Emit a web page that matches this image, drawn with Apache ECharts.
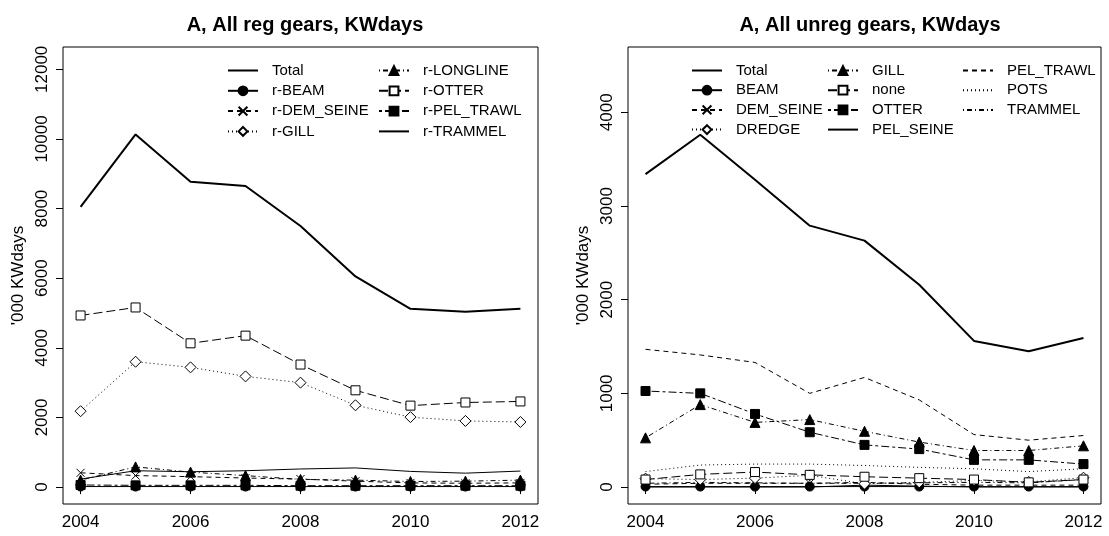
<!DOCTYPE html>
<html>
<head>
<meta charset="utf-8">
<script src="https://cdn.jsdelivr.net/npm/echarts@6/dist/echarts.min.js"></script>
<style>html,body{margin:0;padding:0;background:#fff}#c{width:1109px;height:536px}</style>
</head>
<body>
<div id="c"></div>
<script>
// ---------- data ----------
const years = [2004, 2005, 2006, 2007, 2008, 2009, 2010, 2011, 2012];
const xTicks = [2004, 2006, 2008, 2010, 2012];
const regTicks = [0, 2000, 4000, 6000, 8000, 10000, 12000];
const unregTicks = [0, 1000, 2000, 3000, 4000];

// left panel: regulated gears
const regTotal     = [8050, 10130, 8770, 8650, 7500, 6050, 5120, 5040, 5120];
const regBeam      = [15, 15, 15, 15, 15, 15, 15, 15, 15];
const regDemSeine  = [410, 330, 300, 260, 230, 170, 120, 110, 120];
const regGill      = [2180, 3600, 3440, 3180, 3000, 2350, 2010, 1900, 1870];
const regLongline  = [200, 580, 430, 330, 220, 200, 160, 170, 200];
const regOtter     = [4930, 5160, 4130, 4350, 3520, 2780, 2340, 2430, 2460];
const regPelTrawl  = [60, 50, 50, 50, 40, 40, 40, 40, 40];
const regTrammel   = [230, 470, 440, 470, 520, 550, 450, 400, 460];

// right panel: unregulated gears
const unTotal      = [3340, 3760, 3280, 2790, 2630, 2160, 1560, 1450, 1590];
const unBeam       = [5, 5, 5, 5, 5, 5, 5, 5, 5];
const unDemSeine   = [30, 40, 40, 40, 50, 30, 20, 20, 20];
const unDredge     = [90, 80, 95, 125, 35, 50, 70, 55, 100];
const unGill       = [525, 880, 690, 720, 595, 480, 390, 390, 440];
const unNone       = [80, 135, 160, 130, 110, 95, 80, 50, 80];
const unOtter      = [1025, 1000, 780, 585, 450, 405, 290, 290, 245];
const unPelSeine   = [0, 0, 0, 0, 20, 10, 0, 0, 0];
const unPelTrawl   = [1470, 1410, 1330, 1000, 1170, 930, 560, 500, 550];
const unPots       = [165, 235, 245, 245, 230, 210, 195, 165, 195];
const unTrammel    = [40, 50, 45, 40, 40, 45, 50, 45, 80];

// ---------- styles ----------
const LTY = {
  solid: 'solid',
  dashed: [5, 4],
  dotted: [1, 3],
  dotdash: [1, 3, 5, 3],
  longdash: [9, 4],
  twodash: [3, 3, 8, 3]
};
const XPATH = 'path://M0,0L10,10M10,0L0,10';
const SYM = {
  none: {symbol: 'circle', size: 0, fill: 'transparent', bw: 0, hide: true},
  dot: {symbol: 'circle', size: 9, fill: '#000', bw: 1},
  cross: {symbol: XPATH, size: 8, fill: '#000', bw: 1},
  diamond: {symbol: 'diamond', size: 11, fill: '#fff', bw: 1},
  tri: {symbol: 'triangle', size: 10, fill: '#000', bw: 1},
  osq: {symbol: 'rect', size: 9, fill: '#fff', bw: 1},
  sq: {symbol: 'rect', size: 9, fill: '#000', bw: 1}
};

function mk(name, data, idx, lty, sym, width) {
  const s = SYM[sym];
  return {
    type: 'line',
    name: name,
    xAxisIndex: idx, yAxisIndex: idx,
    data: years.map((y, i) => [y, data[i]]),
    symbol: s.symbol,
    symbolSize: s.size,
    showSymbol: !s.hide,
    lineStyle: {color: '#000', width: width || 1, type: LTY[lty]},
    itemStyle: {color: s.fill, borderColor: s.bw ? '#000' : 'transparent', borderWidth: s.bw},
    emphasis: {disabled: true},
    silent: true,
    z: 2
  };
}

const series = [
  mk('Total', regTotal, 0, 'solid', 'none', 2),
  mk('r-BEAM', regBeam, 0, 'solid', 'dot'),
  mk('r-DEM_SEINE', regDemSeine, 0, 'dashed', 'cross'),
  mk('r-GILL', regGill, 0, 'dotted', 'diamond'),
  mk('r-LONGLINE', regLongline, 0, 'dotdash', 'tri'),
  mk('r-OTTER', regOtter, 0, 'longdash', 'osq'),
  mk('r-PEL_TRAWL', regPelTrawl, 0, 'twodash', 'sq'),
  mk('r-TRAMMEL', regTrammel, 0, 'solid', 'none'),

  mk('Total', unTotal, 1, 'solid', 'none', 2),
  mk('BEAM', unBeam, 1, 'solid', 'dot'),
  mk('DEM_SEINE', unDemSeine, 1, 'dashed', 'cross'),
  mk('DREDGE', unDredge, 1, 'dotted', 'diamond'),
  mk('GILL', unGill, 1, 'dotdash', 'tri'),
  mk('none', unNone, 1, 'longdash', 'osq'),
  mk('OTTER', unOtter, 1, 'twodash', 'sq'),
  mk('PEL_SEINE', unPelSeine, 1, 'solid', 'none'),
  mk('PEL_TRAWL', unPelTrawl, 1, 'dashed', 'none'),
  mk('POTS', unPots, 1, 'dotted', 'none'),
  mk('TRAMMEL', unTrammel, 1, 'dotdash', 'none')
];

const FONT = 'Liberation Sans, Arial, sans-serif';

function legend(names, left, top, gap) {
  return {
    data: names, left: left, top: top, orient: 'vertical',
    padding: 0, itemGap: gap, itemWidth: 30, itemHeight: 11,
    selectedMode: false,
    textStyle: {fontFamily: FONT, fontSize: 15, color: '#000', lineHeight: 14, padding: [0, 0, 0, 9]}
  };
}

const plain = v => String(v);

function xAxis(idx) {
  return {
    type: 'value', gridIndex: idx, min: 2003.68, max: 2012.32,
    axisLine: {show: false},
    axisTick: {show: true, length: 7, lineStyle: {color: '#000'}, customValues: xTicks},
    axisLabel: {color: '#000', fontFamily: FONT, fontSize: 17, margin: 10, customValues: xTicks, formatter: plain},
    splitLine: {show: false}
  };
}
function yAxis(idx, min, max, ticks) {
  return {
    type: 'value', gridIndex: idx, min: min, max: max,
    name: "'000 KWdays", nameLocation: 'middle', nameGap: 36, nameRotate: 90,
    nameTextStyle: {color: '#000', fontFamily: FONT, fontSize: 17},
    axisLine: {show: false},
    axisTick: {show: true, length: 7, lineStyle: {color: '#000'}, customValues: ticks},
    axisLabel: {color: '#000', fontFamily: FONT, fontSize: 17, rotate: 90, margin: 12, customValues: ticks, formatter: plain},
    splitLine: {show: false}
  };
}

const option = {
  animation: false,
  backgroundColor: '#fff',
  title: [
    {text: 'A, All reg gears, KWdays', left: 300, top: 10, textAlign: 'center',
     textStyle: {fontFamily: FONT, fontSize: 20, fontWeight: 'bold', color: '#000'}},
    {text: 'A, All unreg gears, KWdays', left: 865, top: 10, textAlign: 'center',
     textStyle: {fontFamily: FONT, fontSize: 20, fontWeight: 'bold', color: '#000'}}
  ],
  grid: [
    {left: 63, top: 47, width: 475, height: 457, show: true, borderColor: '#000', borderWidth: 1, backgroundColor: 'transparent'},
    {left: 628, top: 47, width: 473, height: 457, show: true, borderColor: '#000', borderWidth: 1, backgroundColor: 'transparent'}
  ],
  xAxis: [xAxis(0), xAxis(1)],
  yAxis: [yAxis(0, -486, 12642, regTicks), yAxis(1, -181, 4697, unregTicks)],
  legend: [
    legend(['Total', 'r-BEAM', 'r-DEM_SEINE', 'r-GILL'], 227, 63, 5.3),
    legend(['r-LONGLINE', 'r-OTTER', 'r-PEL_TRAWL', 'r-TRAMMEL'], 378, 63, 5.3),
    legend(['Total', 'BEAM', 'DEM_SEINE', 'DREDGE'], 691, 63, 4.7),
    legend(['GILL', 'none', 'OTTER', 'PEL_SEINE'], 827, 63, 4.7),
    legend(['PEL_TRAWL', 'POTS', 'TRAMMEL'], 962, 63, 4.7)
  ],
  series: series
};

const chart = echarts.init(document.getElementById('c'), null, {renderer: 'canvas'});
chart.setOption(option);
</script>
</body>
</html>
